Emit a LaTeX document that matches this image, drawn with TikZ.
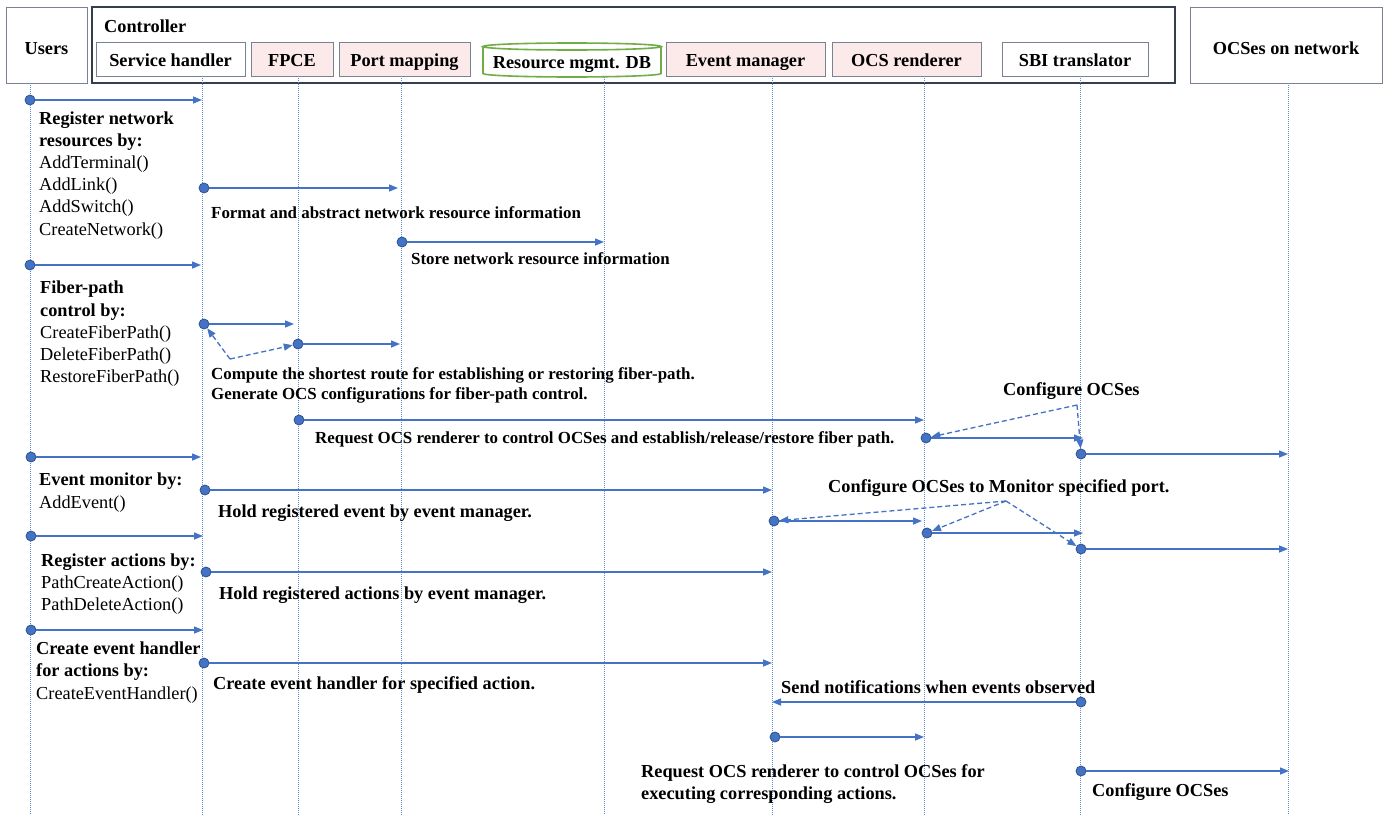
\documentclass[tikz,border=0pt]{standalone}
\usepackage{fontspec}
\setmainfont{Liberation Serif}
\usetikzlibrary{arrows.meta}
\definecolor{ablue}{RGB}{68,114,196}
\definecolor{dotline}{RGB}{47,82,143}
\definecolor{pinkf}{RGB}{252,233,234}
\definecolor{boxg}{RGB}{120,130,146}
\definecolor{ctrlc}{RGB}{51,63,80}
\definecolor{dbg}{RGB}{112,173,71}
\definecolor{lifec}{RGB}{95,140,215}
\newcommand{\bigf}{\fontsize{18.3}{21}\selectfont}
\newcommand{\smallf}{\fontsize{16.9}{20}\selectfont}
\begin{document}
\begin{tikzpicture}[x=1pt,y=-1pt,font=\bigf,
  hbox/.style={draw=boxg,line width=1pt,inner sep=0pt,minimum height=34pt,text height=14pt,text depth=0pt,font=\bigf\bfseries},
  obox/.style={draw=boxg,line width=1pt,inner sep=0pt,minimum height=76pt,text height=18pt,text depth=0pt,font=\bigf\bfseries},
  ctrlbox/.style={draw=ctrlc,line width=1.8pt,inner sep=0pt,minimum height=76pt},
  dbline/.style={draw=dbg,line width=1.6pt},
  life/.style={draw=lifec,line width=0.7pt,dash pattern=on 1pt off 1pt},
  dotn/.style={circle,fill=ablue,draw=dotline,line width=0.8pt,minimum size=10pt,inner sep=0pt},
  msg/.style={draw=ablue,line width=1.4pt,-{Triangle[length=9pt,width=7pt]}},
  dmsg/.style={draw=ablue,line width=1.3pt,dash pattern=on 5pt off 3pt,-{Triangle[length=9pt,width=7pt]}},
  lbl/.style={font=\bigf\bfseries,anchor=base west,inner sep=0pt},
  slbl/.style={font=\smallf\bfseries,anchor=base west,inner sep=0pt},
  fn/.style={font=\bigf,anchor=base west,inner sep=0pt}]
\useasboundingbox[fill=white] (0,0) rectangle (1388,819);

% ---------- header ----------
\node[obox,minimum width=81pt] (users) at (46.5,45) {Users};
\node[ctrlbox,minimum width=1083pt] (ctrl) at (633.5,45) {};
\node[lbl] (ctrltxt) at (104,32) {Controller};
\node[hbox,minimum width=149pt] (sh) at (170.5,59) {Service handler};
\node[hbox,fill=pinkf,minimum width=82pt] (fpce) at (292,59) {FPCE};
\node[hbox,fill=pinkf,minimum width=131pt] (pm) at (404.5,59) {Port mapping};
\fill[white] (483,46.5) -- (483,73.5) arc[start angle=180,end angle=0,x radius=89,y radius=3.5] -- (661,46.5) -- cycle;
\draw[dbline] (483,46.5) -- (483,73.5) arc[start angle=180,end angle=0,x radius=89,y radius=3.5] -- (661,46.5);
\draw[dbline] (572,46.5) ellipse[x radius=89,y radius=3.5];
\node[lbl,anchor=base] (dbtxt) at (572,68) {Resource mgmt. DB};
\node[hbox,fill=pinkf,minimum width=159pt] (em) at (745.5,59) {Event manager};
\node[hbox,fill=pinkf,minimum width=149pt] (ocsr) at (906.5,59) {OCS renderer};
\node[hbox,minimum width=146pt] (sbi) at (1075,59) {SBI translator};
\node[obox,minimum width=192pt] (net) at (1286,45) {OCSes on network};

% ---------- lifelines ----------
\draw[life] (30,83) -- (30,815);
\draw[life] (202,76) -- (202,815);
\draw[life] (298,76) -- (298,815);
\draw[life] (401,76) -- (401,815);
\draw[life] (604,77) -- (604,815);
\draw[life] (772,76) -- (772,815);
\draw[life] (924,76) -- (924,815);
\draw[life] (1080,76) -- (1080,815);
\draw[life] (1288,83) -- (1288,815);

% ---------- left column texts ----------
\node[lbl] (t1a) at (39,124) {Register network};
\node[lbl] (t1b) at (39,146.2) {resources by:};
\node[fn] (t1c) at (39,168.4) {AddTerminal()};
\node[fn] (t1d) at (39,190.6) {AddLink()};
\node[fn] (t1e) at (39,212.8) {AddSwitch()};
\node[fn] (t1f) at (39,235) {CreateNetwork()};

\node[lbl] (t2a) at (40,293) {Fiber-path};
\node[lbl] (t2b) at (40,316) {control by:};
\node[fn] (t2c) at (40,338) {CreateFiberPath()};
\node[fn] (t2d) at (40,360) {DeleteFiberPath()};
\node[fn] (t2e) at (40,382) {RestoreFiberPath()};

\node[lbl] (t3a) at (39,485) {Event monitor by:};
\node[fn] (t3b) at (39,508) {AddEvent()};

\node[lbl] (t4a) at (41,566) {Register actions by:};
\node[fn] (t4b) at (41,588) {PathCreateAction()};
\node[fn] (t4c) at (41,610) {PathDeleteAction()};

\node[lbl] (t5a) at (36,654) {Create event handler};
\node[lbl] (t5b) at (36,676.5) {for actions by:};
\node[fn] (t5c) at (36,699) {CreateEventHandler()};

% ---------- message labels ----------
\node[slbl] (l2) at (211,218) {Format and abstract network resource information};
\node[slbl] (l3) at (411,264) {Store network resource information};
\node[slbl] (l5a) at (211,379) {Compute the shortest route for establishing or restoring fiber-path.};
\node[slbl] (l5b) at (211,399) {Generate OCS configurations for fiber-path control.};
\node[slbl] (l7) at (315,443) {Request OCS renderer to control OCSes and establish/release/restore fiber path.};
\node[lbl] (l9) at (1003,395) {Configure OCSes};
\node[lbl] (l13) at (828,492) {Configure OCSes to Monitor specified port.};
\node[lbl] (l11) at (218,517) {Hold registered event by event manager.};
\node[lbl] (l16) at (219,599) {Hold registered actions by event manager.};
\node[lbl] (l18) at (213,689) {Create event handler for specified action.};
\node[lbl] (l19) at (781,693) {Send notifications when events observed};
\node[lbl] (l20a) at (641,777) {Request OCS renderer to control OCSes for};
\node[lbl] (l20b) at (641,799) {executing corresponding actions.};
\node[lbl] (l21) at (1092,796) {Configure OCSes};

% ---------- dots and end points ----------
\foreach \n/\sx/\sy/\ex/\ey in {
  1/30/100/202/100, 2/204/188/398/188, 3/402/242/604/242, 4/30/265/201/265,
  5/204/324/294/324, 6/298/344/400/344, 7/299/420/924/420, 8/31/457/201/457,
  9/926/438/1083/438, 10/1081/454/1288/454, 11/205/490/772/490, 12/31/536/203/536,
  13/774/521/922/521, 14/927/533/1083/533, 15/1081/549/1288/549, 16/206/572/772/572,
  17/31/630/203/630, 18/204/663/772/663, 19/1081/702/772/702, 20/775/737/924/737,
  21/1081/771/1289/771}{
  \coordinate (e\n) at (\ex,\ey);
  \node[dotn] (d\n) at (\sx,\sy) {};
  \draw[msg] (d\n) -- (e\n);
}

% ---------- dashed configuration arrows ----------
\coordinate (v1) at (230,359);
\draw[dmsg] (v1) -- (d5);
\draw[dmsg] (v1) -- (d6);
\coordinate (v2) at (1077,405);
\draw[dmsg] (v2) -- (d9);
\draw[dmsg] (v2) -- (d10);
\coordinate (v3) at (1006,501);
\draw[dmsg] (v3) -- (d13);
\draw[dmsg] (v3) -- (d14);
\draw[dmsg] (v3) -- (d15);
\end{tikzpicture}
\end{document}
